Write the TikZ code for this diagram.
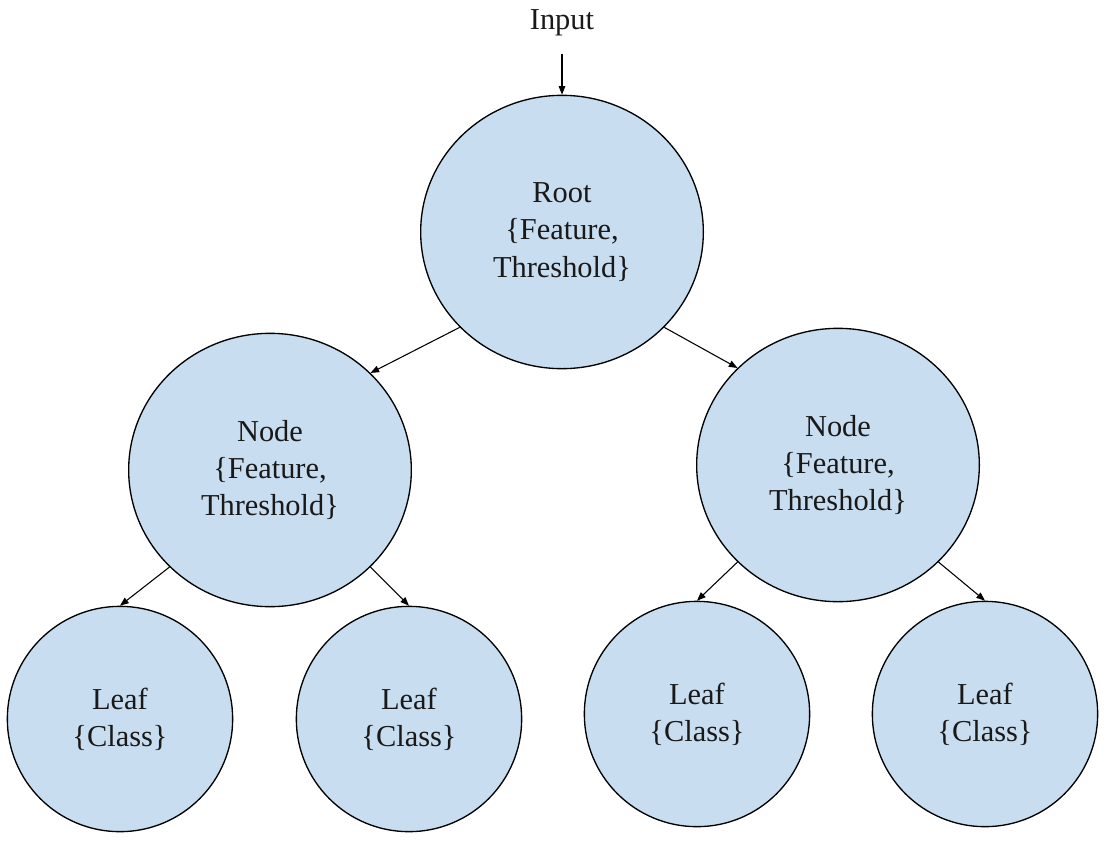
\documentclass[tikz,border=0pt]{standalone}
\usepackage{fontspec}
\setmainfont{Liberation Serif}
\usepackage{tikz}
\usetikzlibrary{arrows.meta}
\usetikzlibrary{shapes.geometric}
\definecolor{nodeblue}{RGB}{200,221,240}
\tikzstyle{every node}=[font=\fontsize{22.8}{28}\selectfont, align=center, text=black!90]
\tikzstyle{split}=[ellipse, draw, fill=nodeblue, inner sep=0pt, minimum width=212pt, minimum height=205pt]
\tikzstyle{leaf}=[ellipse, draw, fill=nodeblue, inner sep=0pt, minimum width=169pt, minimum height=169pt]
\tikzset{edge/.style={-{Triangle[length=6.5pt,width=5pt]}, line width=0.8pt}}

\begin{document}
\begin{tikzpicture}[x=0.75pt, y=-0.75pt, line width=1pt]
		\useasboundingbox (0,0) rectangle (1107,843);
		\node[inner sep=0pt, outer sep=13pt] (input) at (562,23) {Input};
		\node[split] (root) at (562,232) {Root\\\{Feature,\\Threshold\}};
		\node[split] (nodeL) at (270,470) {Node\\\{Feature,\\Threshold\}};
		\node[split] (nodeR) at (838,465) {Node\\\{Feature,\\Threshold\}};
		\node[leaf] (leafLL) at (120,719) {Leaf\\\{Class\}};
		\node[leaf] (leafLR) at (409,719) {Leaf\\\{Class\}};
		\node[leaf] (leafRL) at (697,714) {Leaf\\\{Class\}};
		\node[leaf] (leafRR) at (985,714) {Leaf\\\{Class\}};
		\draw[edge] (input) to (root);
		\draw[edge] (root.223) to (nodeL.44);
		\draw[edge] (root.317) to (nodeR.136);
		\draw[edge] (nodeL.224) to (leafLL.north);
		\draw[edge] (nodeL.316) to (leafLR.north);
		\draw[edge] (nodeR.224) to (leafRL.north);
		\draw[edge] (nodeR.316) to (leafRR.north);
\end{tikzpicture}
\end{document}
